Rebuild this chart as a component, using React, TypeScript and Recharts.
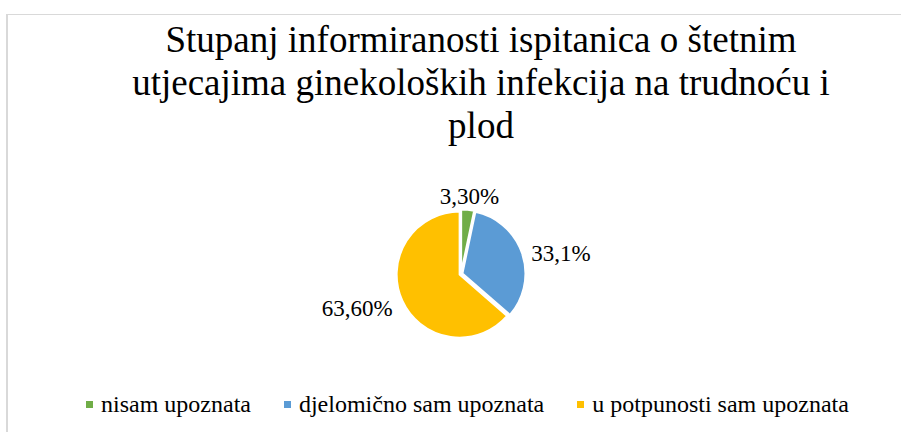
import { PieChart, Pie, Cell, Legend, Sector } from 'recharts';

const categories = ['nisam upoznata', 'djelomično sam upoznata', 'u potpunosti sam upoznata'];
const values = [3.3, 33.1, 63.6];
const labelTexts = ['3,30%', '33,1%', '63,60%'];
const colors = ['#70ad47', '#5b9bd5', '#ffc000'];
const titleLines = [
  'Stupanj informiranosti ispitanica o štetnim',
  'utjecajima ginekoloških infekcija na trudnoću i',
  'plod',
];

const data = categories.map((name, i) => ({ name, value: values[i], label: labelTexts[i] }));

const FONT = "'Liberation Serif', 'Times New Roman', serif";
const RAD = Math.PI / 180;

// slices pulled slightly apart, like the original
function renderSlice(props: any) {
  const { cx, cy, midAngle } = props;
  const off = 1.5;
  const dx = off * Math.cos(-midAngle * RAD);
  const dy = off * Math.sin(-midAngle * RAD);
  return <Sector {...props} cx={cx + dx} cy={cy + dy} />;
}

function renderLabel(props: any) {
  const { cx, cy, midAngle, outerRadius, index } = props;
  const cos = Math.cos(-midAngle * RAD);
  const sin = Math.sin(-midAngle * RAD);
  const r = outerRadius + 8 + 10 * Math.abs(sin);
  const x = cx + r * cos;
  const y = cy + r * sin + 3;
  const anchor = cos > 0.3 ? 'start' : cos < -0.3 ? 'end' : 'middle';
  return (
    <text x={x} y={y} textAnchor={anchor} dominantBaseline="central" fill="#000" style={{ fontFamily: FONT, fontSize: 23 }}>
      {labelTexts[index]}
    </text>
  );
}

function LegendContent() {
  return (
    <div style={{ display: 'flex', alignItems: 'center', paddingLeft: 86, fontFamily: FONT, fontSize: 24, lineHeight: '24px', color: '#000', whiteSpace: 'nowrap' }}>
      {categories.map((c, i) => (
        <div key={c} style={{ display: 'flex', alignItems: 'center', marginRight: 33 }}>
          <span style={{ display: 'inline-block', width: 7, height: 7, background: colors[i], marginRight: 8 }} />
          <span style={{ fontFamily: FONT }}>{c}</span>
        </div>
      ))}
    </div>
  );
}

export default function App() {
  return (
    <div style={{ position: 'relative', width: 901, height: 432, background: '#fff', overflow: 'hidden', fontFamily: FONT }}>
      <style>{'body{margin:0}'}</style>
      <div style={frame} />
      <div style={title}>
        {titleLines.map((l) => (
          <div key={l}>{l}</div>
        ))}
      </div>
      <div style={{ position: 'absolute', left: 0, top: 0 }}>
        <PieChart width={901} height={432} margin={{ top: 0, right: 0, bottom: 0, left: 0 }}>
          <Pie
            data={data}
            dataKey="value"
            nameKey="name"
            cx={461}
            cy={274}
            outerRadius={63}
            startAngle={90}
            endAngle={-270}
            stroke="#fff"
            strokeWidth={2}
            shape={renderSlice}
            label={renderLabel}
            labelLine={false}
            isAnimationActive={false}
          >
            {data.map((d, i) => (
              <Cell key={d.name} fill={colors[i]} />
            ))}
          </Pie>
          <Legend content={<LegendContent />} wrapperStyle={{ position: 'absolute', left: 0, top: 392, width: 901 }} />
        </PieChart>
      </div>
    </div>
  );
}

const frame: React.CSSProperties = { position: 'absolute', left: 6, top: 14, width: 900, height: 430, borderTop: '1px solid #d9d9d9', borderLeft: '2px solid #d9d9d9' };
const title: React.CSSProperties = { position: 'absolute', left: 81, top: 18, width: 800, textAlign: 'center', fontFamily: FONT, fontSize: 37, lineHeight: '43px', color: '#000', whiteSpace: 'nowrap' };
